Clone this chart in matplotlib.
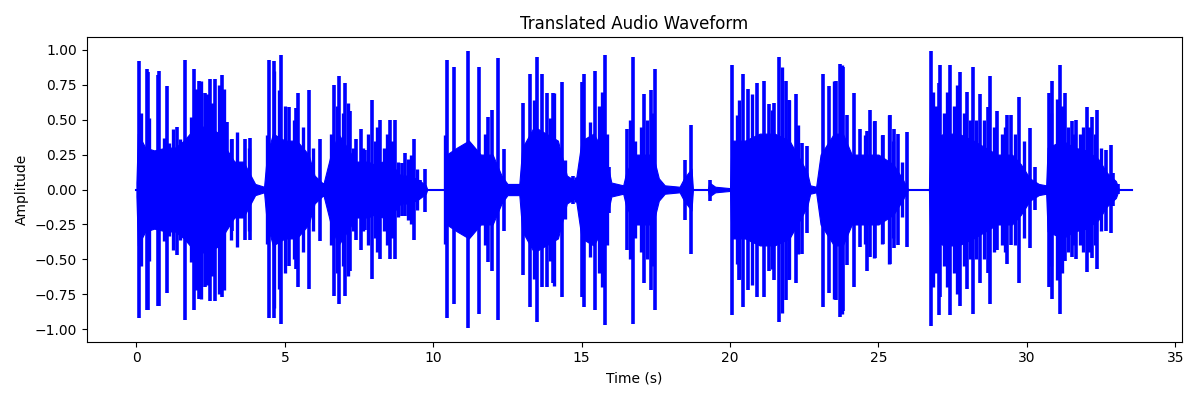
import matplotlib
matplotlib.use('Agg')
import matplotlib.pyplot as plt

# Tall individual strokes: time (s), peak, trough
spike_t = [0.08, 0.34, 0.39, 0.74, 0.75, 1.03, 1.37, 1.65, 1.93, 2.12, 2.32, 2.49, 2.66, 2.89,
           3.05, 3.22, 3.50, 3.67, 3.81, 4.46, 4.65, 4.88, 5.13, 5.36, 5.44, 5.80, 6.20, 6.30,
           6.65, 6.84, 7.04, 7.20, 7.41, 7.55, 7.70, 7.92, 8.22, 8.55, 8.70, 8.95, 9.06, 9.36,
           9.57, 9.73, 10.46, 10.69, 11.17, 11.53, 11.84, 11.98, 12.17, 12.39, 13.01, 13.25,
           13.50, 13.66, 13.83, 14.03, 14.34, 14.70, 15.01, 15.09, 15.46, 15.77, 15.93, 16.53,
           16.73, 16.90, 17.09, 17.33, 17.48, 18.49, 18.69, 19.33, 20.06, 20.29, 20.45, 20.62,
           20.91, 21.16, 21.30, 21.47, 21.66, 21.88, 21.99, 22.23, 22.42, 22.59, 23.12, 23.34,
           23.57, 23.69, 23.82, 23.95, 24.16, 24.39, 24.61, 24.72, 24.89, 25.14, 25.40, 25.54,
           25.65, 25.97, 26.78, 27.03, 27.08, 27.42, 27.76, 27.98, 28.18, 28.43, 28.69, 28.76,
           29.01, 29.33, 29.47, 29.75, 30.11, 30.26, 30.73, 30.86, 31.12, 31.29, 31.52, 31.66,
           32.02, 32.19, 32.36, 32.66, 32.84, 32.90, 33.06]
spike_hi = [0.92, 0.86, 0.84, 0.82, 0.85, 0.74, 0.45, 0.93, 0.86, 0.78, 0.69, 0.79, 0.79, 0.82,
            0.48, 0.36, 0.19, 0.36, 0.37, 0.93, 0.92, 0.96, 0.59, 0.58, 0.69, 0.71, 0.36, 0.05,
            0.75, 0.81, 0.76, 0.56, 0.36, 0.43, 0.28, 0.64, 0.50, 0.50, 0.50, 0.19, 0.26, 0.36,
            0.07, 0.15, 0.93, 0.88, 0.99, 0.88, 0.52, 0.57, 0.94, 0.29, 0.62, 0.83, 0.95, 0.83,
            0.69, 0.69, 0.77, 0.10, 0.77, 0.83, 0.85, 0.96, 0.16, 0.43, 0.95, 0.24, 0.68, 0.71,
            0.86, 0.21, 0.46, 0.07, 0.89, 0.52, 0.83, 0.72, 0.76, 0.78, 0.61, 0.62, 0.95, 0.78,
            0.64, 0.68, 0.33, 0.31, 0.83, 0.74, 0.78, 0.90, 0.88, 0.53, 0.69, 0.43, 0.42, 0.57,
            0.49, 0.39, 0.53, 0.43, 0.40, 0.41, 0.99, 0.76, 0.89, 0.89, 0.84, 0.70, 0.88, 0.68,
            0.59, 0.81, 0.56, 0.53, 0.53, 0.66, 0.44, 0.16, 0.69, 0.78, 0.89, 0.69, 0.49, 0.50,
            0.59, 0.52, 0.57, 0.28, 0.32, 0.12, 0.04]
spike_lo = [-0.92, -0.86, -0.86, -0.83, -0.83, -0.74, -0.47, -0.93, -0.86, -0.78, -0.70, -0.80, -0.80, -0.77,
            -0.20, -0.30, -0.15, -0.36, -0.36, -0.92, -0.92, -0.96, -0.55, -0.57, -0.70, -0.71, -0.37, -0.05,
            -0.76, -0.82, -0.76, -0.58, -0.36, -0.43, -0.29, -0.64, -0.50, -0.50, -0.50, -0.19, -0.19, -0.36,
            -0.06, -0.16, -0.92, -0.82, -0.99, -0.89, -0.52, -0.58, -0.93, -0.30, -0.61, -0.84, -0.95, -0.70,
            -0.70, -0.67, -0.77, -0.10, -0.77, -0.84, -0.86, -0.97, -0.17, -0.43, -0.96, -0.20, -0.67, -0.72,
            -0.86, -0.22, -0.46, -0.08, -0.90, -0.65, -0.84, -0.72, -0.77, -0.77, -0.58, -0.65, -0.95, -0.79,
            -0.65, -0.67, -0.46, -0.31, -0.84, -0.74, -0.79, -0.91, -0.87, -0.54, -0.70, -0.41, -0.58, -0.48,
            -0.49, -0.39, -0.53, -0.42, -0.40, -0.41, -0.98, -0.90, -0.77, -0.90, -0.83, -0.71, -0.89, -0.67,
            -0.60, -0.82, -0.43, -0.53, -0.40, -0.67, -0.42, -0.15, -0.70, -0.78, -0.89, -0.51, -0.48, -0.50,
            -0.59, -0.49, -0.57, -0.30, -0.31, -0.12, -0.03]

# Mid-height strokes in between the tall ones: time (s), half-height
mid_t = [0.17, 0.41, 0.53, 0.92, 1.09, 1.22, 1.46, 1.85, 2.01, 2.16, 2.38, 2.55, 2.77, 2.94,
         3.17, 3.39, 3.78, 4.40, 4.62, 4.79, 5.02, 5.30, 5.60, 5.95, 6.55, 6.75, 6.95, 7.12,
         7.30, 7.62, 7.80, 8.05, 8.12, 8.35, 8.45, 8.62, 8.80, 9.15, 9.25, 9.45, 10.41, 10.63,
         10.91, 11.02, 11.31, 11.75, 13.38, 13.92, 14.06, 14.45, 14.82, 15.29, 15.60, 15.68,
         15.85, 16.62, 16.80, 17.00, 17.20, 17.40, 18.55, 20.23, 20.31, 20.73, 21.00, 21.41,
         21.74, 21.97, 22.30, 23.49, 23.77, 24.56, 24.86, 25.11, 25.37, 25.50, 25.80, 26.85,
         26.95, 27.20, 27.30, 27.55, 27.65, 27.88, 28.08, 28.30, 28.55, 28.88, 29.15, 29.25,
         29.60, 29.90, 30.80, 31.00, 31.20, 31.40, 31.60, 31.80, 31.90, 32.10, 32.28, 32.50]
mid_amp = [0.55, 0.51, 0.27, 0.37, 0.33, 0.43, 0.36, 0.52, 0.72, 0.78, 0.68, 0.62, 0.75, 0.72,
           0.36, 0.41, 0.30, 0.39, 0.85, 0.71, 0.60, 0.50, 0.45, 0.30, 0.40, 0.60, 0.55, 0.62,
           0.30, 0.30, 0.40, 0.35, 0.45, 0.30, 0.40, 0.35, 0.20, 0.22, 0.25, 0.15, 0.39, 0.26,
           0.19, 0.28, 0.28, 0.40, 0.64, 0.51, 0.69, 0.21, 0.09, 0.48, 0.60, 0.70,
           0.40, 0.50, 0.35, 0.45, 0.50, 0.55, 0.10, 0.53, 0.64, 0.68, 0.17, 0.57,
           0.88, 0.64, 0.46, 0.78, 0.89, 0.39, 0.49, 0.39, 0.53, 0.35, 0.20, 0.70,
           0.60, 0.55, 0.70, 0.60, 0.75, 0.55, 0.50, 0.50, 0.50, 0.45, 0.40, 0.45,
           0.40, 0.35, 0.55, 0.65, 0.60, 0.45, 0.40, 0.40, 0.45, 0.45, 0.40, 0.30]

# Dense body of the waveform between strokes: time (s), half-height
body_t = [0.0, 0.05, 0.3, 0.6, 1.0, 1.3, 1.6, 2.0, 2.4, 2.8, 3.0, 3.3, 3.6, 3.85, 4.0, 4.3, 4.4,
          4.6, 5.0, 5.4, 5.8, 6.0, 6.3, 6.55, 6.8, 7.1, 7.4, 7.8, 8.0, 8.3, 8.6, 8.9, 9.2, 9.5,
          9.75, 9.8, 10.4, 10.45, 10.8, 11.2, 11.6, 12.0, 12.3, 12.5, 12.9, 13.0, 13.4, 13.8,
          14.2, 14.5, 14.8, 15.0, 15.4, 15.8, 16.0, 16.4, 16.5, 16.8, 17.1, 17.4, 17.6, 17.8,
          18.3, 18.45, 18.7, 18.75, 19.25, 19.3, 19.5, 20.0, 20.05, 20.5, 21.0, 21.5, 22.0,
          22.4, 22.6, 22.7, 22.9, 23.05, 23.5, 23.8, 24.1, 24.5, 25.0, 25.5, 25.8, 26.0, 26.7,
          26.75, 27.2, 27.7, 28.2, 28.6, 29.0, 29.5, 29.8, 30.1, 30.4, 30.65, 30.7, 31.2, 31.6,
          32.0, 32.4, 32.7, 33.0, 33.1, 33.54]
body_amp = [0.05, 0.4, 0.3, 0.28, 0.3, 0.3, 0.35, 0.45, 0.45, 0.4, 0.3, 0.2, 0.2, 0.1, 0.04, 0.02, 0.25,
            0.4, 0.35, 0.35, 0.25, 0.1, 0.04, 0.25, 0.4, 0.3, 0.2, 0.2, 0.18, 0.2, 0.18, 0.1, 0.1, 0.07,
            0.03, 0.0, 0.0, 0.25, 0.3, 0.35, 0.25, 0.25, 0.1, 0.04, 0.04, 0.3, 0.45, 0.4,
            0.35, 0.1, 0.06, 0.35, 0.4, 0.25, 0.05, 0.03, 0.12, 0.25, 0.25, 0.25, 0.08, 0.03,
            0.02, 0.08, 0.15, 0.0, 0.0, 0.05, 0.02, 0.01, 0.35, 0.35, 0.4, 0.4, 0.35,
            0.2, 0.12, 0.03, 0.02, 0.25, 0.4, 0.4, 0.25, 0.25, 0.25, 0.18, 0.08, 0.0, 0.0,
            0.35, 0.4, 0.4, 0.35, 0.3, 0.25, 0.25, 0.18, 0.08, 0.04, 0.03, 0.3, 0.35, 0.3,
            0.28, 0.22, 0.12, 0.06, 0.0, 0.0]

fig, ax = plt.subplots(figsize=(12, 4), dpi=100)

body_lo = [-a for a in body_amp]
mid_lo = [-a for a in mid_amp]
ax.plot([body_t[0], body_t[-1]], [0, 0], color='blue', linewidth=1.5)
ax.fill_between(body_t, body_lo, body_amp, color='blue', linewidth=0.8, edgecolor='blue')
ax.vlines(mid_t, mid_lo, mid_amp, color='blue', linewidth=2.4)
ax.vlines(spike_t, spike_lo, spike_hi, color='blue', linewidth=2.6)

ax.set_title('Translated Audio Waveform')
ax.set_xlabel('Time (s)')
ax.set_ylabel('Amplitude')
ax.margins(x=0.05, y=0.05)

plt.tight_layout()
plt.savefig('out.png')
